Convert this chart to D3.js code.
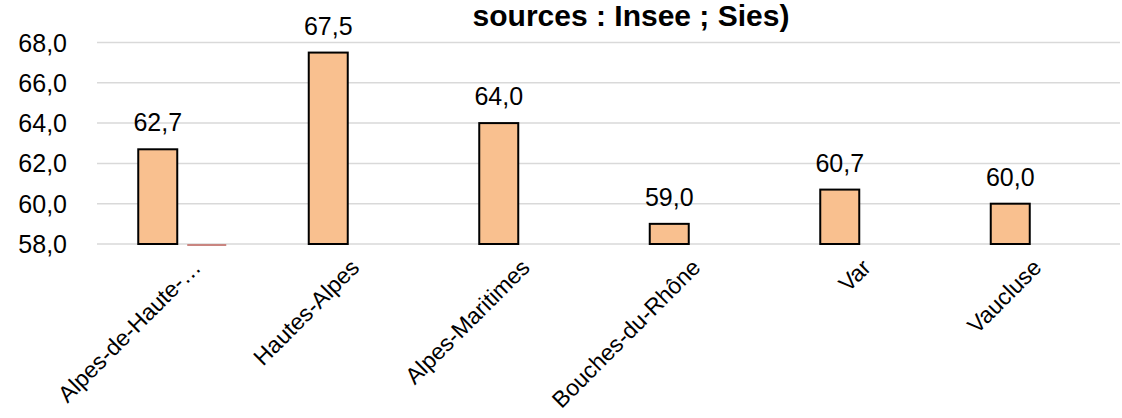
<!DOCTYPE html>
<html>
<head>
<meta charset="utf-8">
<script src="https://cdn.jsdelivr.net/npm/d3@7"></script>
<style>
  html, body { margin: 0; padding: 0; background: #fff; }
  svg { display: block; font-family: "Liberation Sans", Arial, sans-serif; }
</style>
</head>
<body>
<svg id="chart" width="1122" height="418"></svg>
<script>
const categories = ["Alpes-de-Haute-…", "Hautes-Alpes", "Alpes-Maritimes", "Bouches-du-Rhône", "Var", "Vaucluse"];
const series1 = [62.7, 67.5, 64.0, 59.0, 60.7, 60.0];
const series2 = [58.0, null, null, null, null, null];
const yTicks = [58, 60, 62, 64, 66, 68];
const titleText = "sources : Insee ; Sies)";

const svg = d3.select("#chart");
const plot = { left: 97, right: 1120, top: 42.5, bottom: 244 };

const x0 = d3.scaleBand().domain(categories).range([plot.left, plot.right]).paddingInner(0).paddingOuter(0);
const bw = x0.bandwidth();
const x1 = d3.scaleBand().domain(["s1", "s2"]).range([bw / 2 - 44, bw / 2 + 44]).paddingInner(0.204).paddingOuter(0);
const y = d3.scaleLinear().domain([58, 68]).range([plot.bottom, plot.top]);
const fmt = v => d3.format(".1f")(v).replace(".", ",");

// gridlines
svg.append("g").selectAll("line").data(yTicks).join("line")
  .attr("x1", plot.left).attr("x2", plot.right)
  .attr("y1", d => y(d)).attr("y2", d => y(d))
  .attr("stroke", "#d9d9d9").attr("stroke-width", 1.5);

// y axis labels
svg.append("g").selectAll("text").data(yTicks).join("text")
  .attr("x", 67).attr("y", d => y(d))
  .attr("dy", "0.36em")
  .attr("text-anchor", "end")
  .attr("font-size", 25)
  .attr("fill", "#000")
  .text(d => fmt(d));

// series 1 bars
const data1 = categories.map((c, i) => ({ c, v: series1[i] }));
svg.append("g").selectAll("rect").data(data1).join("rect")
  .attr("x", d => x0(d.c) + x1("s1"))
  .attr("y", d => y(d.v))
  .attr("width", x1.bandwidth())
  .attr("height", d => y(58) - y(d.v))
  .attr("fill", "#F9C08F")
  .attr("stroke", "#000").attr("stroke-width", 2);

// series 2 (values at/below axis minimum)
const data2 = categories.map((c, i) => ({ c, v: series2[i] })).filter(d => d.v != null);
svg.append("g").selectAll("line").data(data2).join("line")
  .attr("x1", d => x0(d.c) + x1("s2"))
  .attr("x2", d => x0(d.c) + x1("s2") + x1.bandwidth())
  .attr("y1", d => y(Math.max(58, d.v)) + 1)
  .attr("y2", d => y(Math.max(58, d.v)) + 1)
  .attr("stroke", "#C98580").attr("stroke-width", 2);

// data labels
svg.append("g").selectAll("text").data(data1).join("text")
  .attr("x", d => x0(d.c) + x1("s1") + x1.bandwidth() / 2)
  .attr("y", d => y(d.v) - 18)
  .attr("text-anchor", "middle")
  .attr("font-size", 25)
  .attr("fill", "#000")
  .text(d => fmt(d.v));

// x labels
svg.append("g").selectAll("text").data(categories).join("text")
  .attr("transform", (d, i) => `translate(${x0(d) + bw / 2 + (i === 0 ? 20 : 8)},${plot.bottom + 25}) rotate(-45)`)
  .attr("text-anchor", "end")
  .attr("font-size", 23)
  .attr("fill", "#000")
  .text(d => d);

// title (last visible line)
svg.append("text")
  .attr("x", 631).attr("y", 26)
  .attr("text-anchor", "middle")
  .attr("font-size", 30)
  .attr("font-weight", "bold")
  .attr("fill", "#000")
  .text(titleText);
</script>
</body>
</html>
